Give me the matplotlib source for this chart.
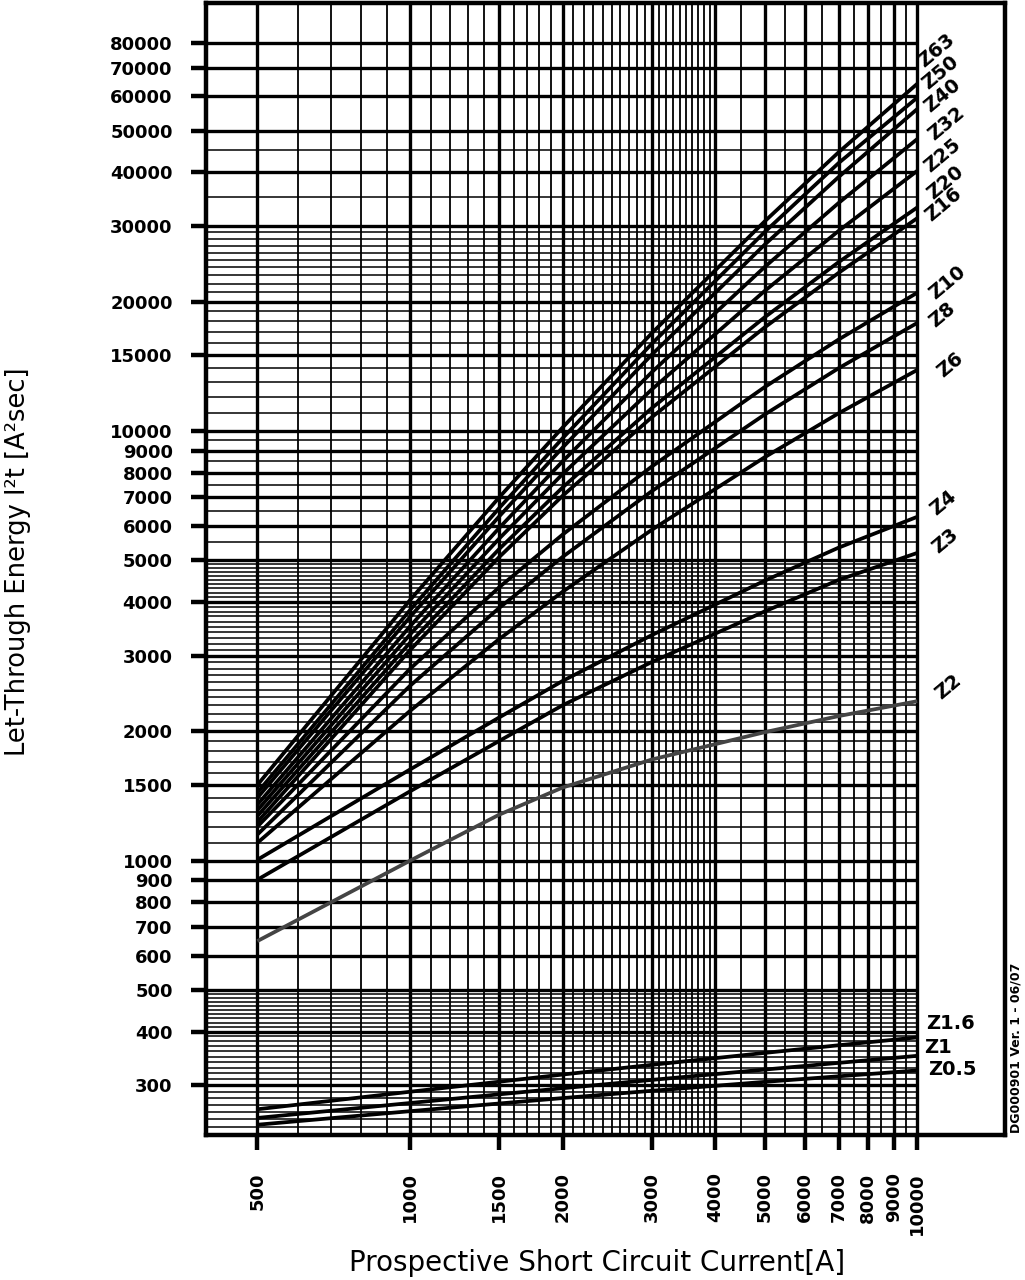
import matplotlib
matplotlib.use("Agg")
import matplotlib.pyplot as plt
from matplotlib.ticker import NullLocator

plt.rcParams['font.family'] = ['DejaVu Sans']

# ---------------- data ----------------
current = [500, 1000, 1500, 2000, 3000, 5000, 7000, 10000]

z63 = [1500, 4040, 7010, 10190, 16900, 30700, 44500, 64200]
z50 = [1440, 3830, 6620, 9620, 15970, 29000, 42000, 59600]
z40 = [1400, 3690, 6330, 9150, 15060, 27100, 38970, 56080]
z32 = [1350, 3510, 5950, 8500, 13710, 24050, 33910, 47750]
z25 = [1310, 3360, 5620, 7940, 12500, 21150, 29200, 40270]
z20 = [1270, 3215, 5315, 7390, 11310, 18370, 24700, 33100]
z16 = [1230, 3090, 5090, 7065, 10770, 17400, 23320, 31250]
z10 = [1200, 2795, 4330, 5740, 8270, 12640, 16320, 20960]
z8 = [1150, 2552, 3876, 5093, 7247, 10910, 13990, 17830]
z6 = [1100, 2231, 3280, 4225, 5890, 8680, 10990, 13860]
z4 = [1005, 1630, 2155, 2620, 3350, 4480, 5350, 6310]
z3 = [903, 1450, 1900, 2300, 2900, 3800, 4500, 5200]
z2 = [650, 1000, 1280, 1480, 1720, 1990, 2170, 2350]
z1_6 = [264, 290, 306, 318, 335, 357, 372, 388]
z1 = [252, 273, 286, 295.5, 309, 326.5, 338.5, 351.5]
z0_5 = [243, 261.3, 272.3, 280.3, 291.5, 305.7, 315, 325]

labels = ["Z63", "Z50", "Z40", "Z32", "Z25", "Z20", "Z16", "Z10", "Z8", "Z6",
          "Z4", "Z3", "Z2", "Z1.6", "Z1", "Z0.5"]

x_ticks = [500, 1000, 1500, 2000, 3000, 4000, 5000, 6000, 7000, 8000, 9000, 10000]
y_ticks = [300, 400, 500, 600, 700, 800, 900, 1000, 1500, 2000, 3000, 4000, 5000,
           6000, 7000, 8000, 9000, 10000, 15000, 20000, 30000, 40000, 50000,
           60000, 70000, 80000]

# ---------------- grid of the log paper ----------------
x_minor = [v for v in list(range(600, 1000, 100)) + list(range(1100, 4000, 100))
           if v not in x_ticks] + list(range(4500, 10000, 1000))
y_minor = ([v for v in range(240, 500, 10) if v not in (300, 400)]
           + [1100, 1200, 1300, 1400, 1600, 1700, 1800, 1900]
           + [v for v in range(2100, 5000, 100) if v not in (3000, 4000)]
           + [5500, 6500, 7500, 8500, 9500]
           + [11000, 12000, 13000, 14000, 16000, 17000, 18000, 19000]
           + list(range(21000, 30000, 1000)) + [35000, 45000])

XMIN, XMAX = 396, 14900
YMIN, YMAX = 230, 99000

fig = plt.figure(figsize=(10.25, 12.8), dpi=100)
ax = fig.add_axes([206 / 1025, 1 - 1135 / 1280, (1005 - 206) / 1025, (1135 - 3) / 1280])
ax.set_xscale('log')
ax.set_yscale('log')
ax.set_xlim(XMIN, XMAX)
ax.set_ylim(YMIN, YMAX)

ax.vlines(x_minor, YMIN, YMAX, color='black', lw=1.3, zorder=1)
ax.vlines(x_ticks, YMIN, YMAX, color='black', lw=2.4, zorder=1)
ax.hlines(y_minor, XMIN, 10000, color='black', lw=1.1, zorder=1)
ax.hlines(y_ticks, XMIN, 10000, color='black', lw=2.4, zorder=1)

series = [z63, z50, z40, z32, z25, z20, z16, z10, z8, z6, z4, z3, z2, z1_6, z1, z0_5]
offsets = {
    "Z63": (14, 24), "Z50": (17, 18), "Z40": (18, 10), "Z32": (21, 11),
    "Z25": (18, 11), "Z20": (20, 18), "Z16": (19, 10), "Z10": (22, 7),
    "Z8": (18, 6), "Z6": (24, 4), "Z4": (19, 10), "Z3": (20, 9), "Z2": (22, 10),
    "Z1.6": (24, 10), "Z1": (15, 6), "Z0.5": (25, 1),
}
for name, vals in zip(labels, series):
    col = '#444444' if name == "Z2" else 'black'
    ax.plot(current, vals, color=col, lw=2.7, zorder=3, solid_capstyle='butt')
    rot = 0 if name in ("Z1.6", "Z1", "Z0.5") else 40
    ax.annotate(name, xy=(current[-1], vals[-1]), xytext=offsets[name],
                textcoords='offset points', rotation=rot, rotation_mode='anchor',
                ha='center', va='center', fontsize=14, fontweight='bold',
                color='black', annotation_clip=False)

# ---------------- axes styling ----------------
for sp in ax.spines.values():
    sp.set_linewidth(3.2)
ax.set_xticks(x_ticks)
ax.set_xticklabels([str(v) for v in x_ticks], rotation=90, fontweight='bold')
ax.set_yticks(y_ticks)
ax.set_yticklabels([str(v) for v in y_ticks], fontweight='bold')
ax.xaxis.set_minor_locator(NullLocator())
ax.yaxis.set_minor_locator(NullLocator())
ax.tick_params(axis='x', which='major', direction='out', length=11, width=3.2,
               labelsize=13, pad=16)
ax.tick_params(axis='y', which='major', direction='out', length=11, width=3.2,
               labelsize=13, pad=13)

fig.text(597 / 1025, 1 - 1263 / 1280, "Prospective Short Circuit Current[A]",
         ha='center', va='center', fontsize=20)
fig.text(18 / 1025, 1 - 562 / 1280, "Let-Through Energy I²t [A²sec]",
         rotation=90, ha='center', va='center', fontsize=18.5)
fig.text(1016 / 1025, 1 - 1048 / 1280, "DG000901 Ver. 1 - 06/07",
         rotation=90, ha='center', va='center', fontsize=9, fontweight='bold')

fig.savefig("out.png", dpi=100, facecolor='white')
